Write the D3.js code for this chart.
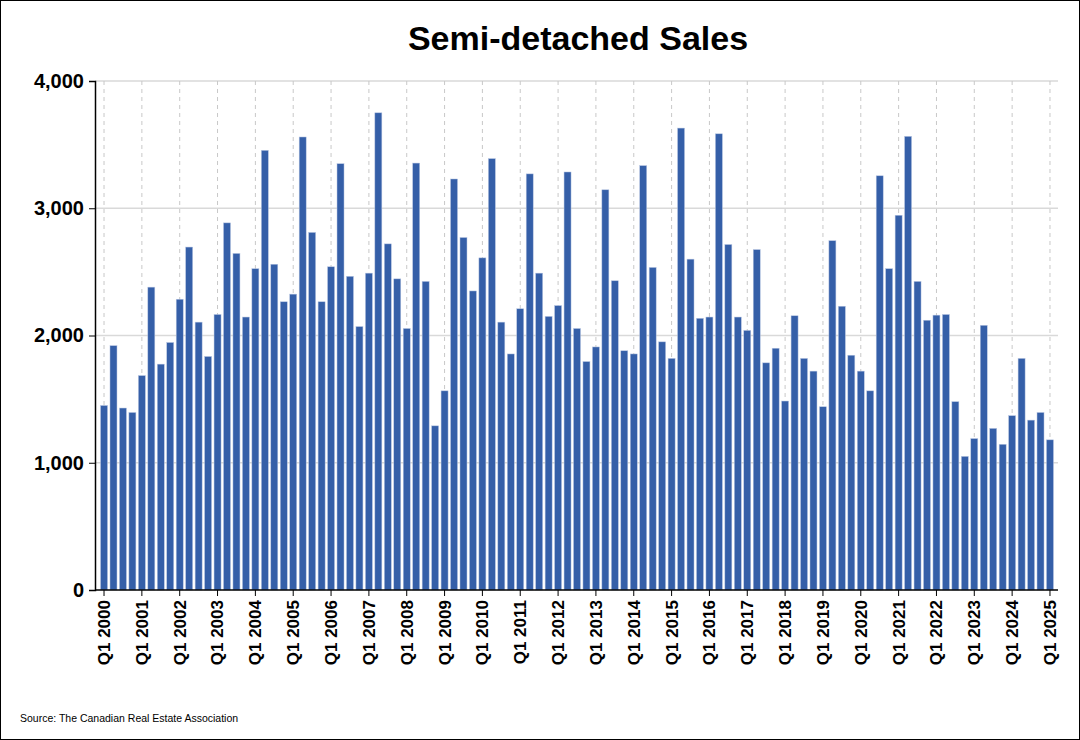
<!DOCTYPE html>
<html><head><meta charset="utf-8">
<script src="https://cdn.jsdelivr.net/npm/d3@7"></script>
<style>body{margin:0;background:#fff}svg{display:block;font-family:Arial,"Liberation Sans",sans-serif}</style>
</head><body><svg id="c" width="1080" height="740"></svg>
<script>
const years = d3.range(2000, 2026);
const quarters = [];
years.forEach(y => [1,2,3,4].forEach(q => { if (y < 2025 || q === 1) quarters.push("Q" + q + " " + y); }));
const sales = [
1450,1920,1430,1395, 1685,2380,1775,1945, 2285,2695,2105,1835, 2165,2885,2645,2145,
2525,3455,2560,2265, 2325,3560,2810,2265, 2540,3350,2465,2070, 2490,3750,2720,2445,
2055,3355,2425,1290, 1565,3230,2770,2350, 2610,3390,2105,1855, 2210,3270,2490,2150,
2235,3285,2055,1795, 1910,3145,2430,1880, 1855,3335,2535,1950, 1820,3630,2600,2135,
2145,3585,2715,2145, 2040,2675,1785,1900, 1485,2155,1820,1720, 1440,2745,2230,1845,
1720,1565,3255,2525, 2945,3565,2425,2120, 2160,2165,1480,1050, 1190,2080,1270,1145,
1370,1820,1335,1395, 1180];
const yTicks = [0,1000,2000,3000,4000];
const tickLabels = quarters.filter(q => q.startsWith("Q1"));

const svg = d3.select("#c");
svg.append("rect").attr("x",0.5).attr("y",0.5).attr("width",1079).attr("height",739).attr("fill","#fff").attr("stroke","#000");
const x = d3.scaleBand().domain(quarters).range([99.3,1054.7]).paddingInner(0.26).paddingOuter(0.13);
const y = d3.scaleLinear().domain([0,4000]).range([590,81]);
const L = 95, R = 1058;

svg.append("g").selectAll("line").data(yTicks.slice(1)).join("line")
  .attr("x1",L).attr("x2",R).attr("y1",d=>y(d)).attr("y2",d=>y(d)).attr("stroke","#d9d9d9").attr("stroke-width",1.5);
svg.append("g").selectAll("line").data(tickLabels).join("line")
  .attr("x1",d=>x(d)+x.bandwidth()/2).attr("x2",d=>x(d)+x.bandwidth()/2).attr("y1",81).attr("y2",590)
  .attr("stroke","#c8c8c8").attr("stroke-dasharray","4,4");

svg.append("g").selectAll("rect").data(quarters).join("rect")
  .attr("x",d=>x(d)).attr("width",x.bandwidth())
  .attr("y",(d,i)=>y(sales[i])).attr("height",(d,i)=>590-y(sales[i]))
  .attr("fill","#355fa8").attr("stroke","#b8c6e2").attr("stroke-width",0.5);

const ya = svg.append("g").attr("transform",`translate(${L},0)`)
  .call(d3.axisLeft(y).tickValues(yTicks).tickFormat(d3.format(",")).tickSize(6));
ya.select(".domain").attr("stroke","#000").attr("stroke-width",1.5);
ya.selectAll("text").attr("font-size",20).attr("font-weight","bold").attr("fill","#000").attr("dx",-2);

const xa = svg.append("g").attr("transform","translate(0,590)")
  .call(d3.axisBottom(x).tickValues(tickLabels).tickSize(6).tickSizeOuter(0));
xa.select(".domain").attr("d",`M${L},0H${R}`).attr("stroke","#000").attr("stroke-width",1.5);
xa.selectAll("text").attr("font-size",17).attr("font-weight","bold").attr("fill","#000")
  .attr("transform","rotate(-90)").attr("text-anchor","end").attr("x",-10).attr("y",0).attr("dy","0.35em");

svg.append("text").attr("x",578).attr("y",50).attr("text-anchor","middle")
  .attr("font-size",34).attr("font-weight","bold").text("Semi-detached Sales");
svg.append("text").attr("x",20).attr("y",722).attr("font-size",10.5).text("Source: The Canadian Real Estate Association");
</script></body></html>
